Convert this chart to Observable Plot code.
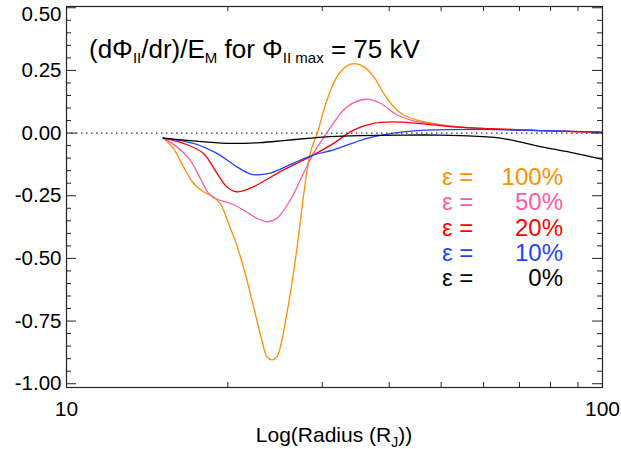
<!DOCTYPE html>
<html><head><meta charset="utf-8">
<script src="https://cdn.jsdelivr.net/npm/d3@7"></script>
<script src="https://cdn.jsdelivr.net/npm/@observablehq/plot@0.6"></script>
<style>
body{margin:0;background:#fff;}
#chart svg{font-family:"Liberation Sans",Arial,Helvetica,sans-serif;}
</style></head><body><div id="chart"></div>
<script>
// ---- data ----
const seriesNames  = ["100%", "50%", "20%", "10%", "0%"];
const seriesColors = ["#ff8f00", "#ff5aa8", "#ff0000", "#1a45ff", "#000000"];

const radius100 = [15.15,15.83,16.52,17.25,18.01,18.67,19.35,20.05,20.73,21.54,22.33,23.14,23.65,24.16,24.69,25.23,25.78,26.34,26.91,28.49,29.37,30.62,31.96,33.37,34.46,35.84,37.41,39.05,40.77,42.56,45.08,48.42,52.03,59.2,76.6,100];
const value100  = [-0.02,-0.061,-0.134,-0.200,-0.234,-0.251,-0.28,-0.36,-0.44,-0.559,-0.692,-0.825,-0.892,-0.905,-0.892,-0.825,-0.718,-0.599,-0.46,-0.081,0.0,0.132,0.225,0.268,0.277,0.265,0.225,0.159,0.105,0.072,0.052,0.039,0.028,0.019,0.010,0.003];

const radius50 = [15.15,16.06,17.0,17.76,18.40,19.08,20.2,21.39,22.66,23.65,24.69,26.15,27.68,28.90,31.0,31.49,33.37,36.10,38.5,41.37,44.43,52.03,59.2,76.6,100];
const value50  = [-0.02,-0.054,-0.107,-0.18,-0.24,-0.264,-0.28,-0.307,-0.34,-0.353,-0.34,-0.267,-0.16,-0.081,0.019,0.04,0.105,0.135,0.119,0.072,0.049,0.028,0.019,0.010,0.003];

const radius20 = [15.15,16.52,18.01,19.08,19.90,20.76,22.0,25.41,28.90,31.49,34.32,37.41,40.77,45.08,52.03,59.2,76.6,100];
const value20  = [-0.02,-0.041,-0.081,-0.16,-0.214,-0.234,-0.22,-0.147,-0.087,-0.041,0.012,0.039,0.045,0.039,0.026,0.019,0.010,0.003];

const radius10 = [15.15,17.25,19.08,20.76,22.0,22.66,24.0,26.52,28.90,31.49,36.36,40.77,47.06,59.2,76.6,100];
const value10  = [-0.02,-0.041,-0.081,-0.134,-0.163,-0.167,-0.16,-0.12,-0.087,-0.067,-0.021,0.0,0.012,0.015,0.010,0.004];

const radius0 = [15.15,17.0,19.9,22.98,25.4,28.5,31.0,35.3,42.0,49.8,54.3,64.5,76.6,87.2,100];
const value0  = [-0.02,-0.03,-0.041,-0.038,-0.03,-0.02,-0.014,-0.010,-0.008,-0.008,-0.010,-0.02,-0.054,-0.077,-0.105];

const yMajorTicks = [-1.0, -0.75, -0.5, -0.25, 0.0, 0.25, 0.5];
const yMinorTicks = [-0.95,-0.9,-0.85,-0.8,-0.7,-0.65,-0.6,-0.55,-0.45,-0.4,-0.35,-0.3,-0.2,-0.15,-0.1,-0.05,0.05,0.1,0.15,0.2,0.3,0.35,0.4,0.45];
const xMinorTicks = [20, 30, 40, 50, 60, 70, 80, 90];
const xTickLabels = [10, 100];
const epsLabel = "ε =";

// ---- build table ----
const radii = [radius100, radius50, radius20, radius10, radius0];
const values = [value100, value50, value20, value10, value0];
const table = [];
seriesNames.forEach((name, i) => {
  radii[i].forEach((r, j) => table.push({name, r, v: values[i][j]}));
});

const W = 621, H = 449, mL = 66, mR = 19, mT = 6, mB = 62;
const iw = W - mL - mR, ih = H - mT - mB;
const legendTop = 184.3 - mT, legendStep = 25.4;

const legendMarks = [];
seriesNames.forEach((name, i) => {
  legendMarks.push(Plot.text([epsLabel], {text: d => d, frameAnchor: "top-left", dx: 441.5 - mL, dy: legendTop + i * legendStep, lineAnchor: "bottom", textAnchor: "start", fill: seriesColors[i], fontSize: 24}));
  legendMarks.push(Plot.text([name], {text: d => d, frameAnchor: "top-left", dx: 562.5 - mL, dy: legendTop + i * legendStep, lineAnchor: "bottom", textAnchor: "end", fill: seriesColors[i], fontSize: 24}));
});

const fmt = d => d.toFixed(2);

const chart = Plot.plot({
  width: W, height: H,
  marginLeft: mL, marginRight: mR, marginTop: mT, marginBottom: mB,
  style: {background: "white", overflow: "visible"},
  x: {type: "log", domain: [10, 100], axis: null, label: null},
  y: {domain: [-1.015, 0.505], axis: null, label: null},
  color: {domain: seriesNames, range: seriesColors},
  marks: [
    Plot.ruleY([0], {stroke: "#333", strokeDasharray: "1.5,3.5", strokeWidth: 1.2}),
    Plot.line(table, {x: "r", y: "v", z: "name", stroke: "name", strokeWidth: 1.3, curve: "catmull-rom"}),
    Plot.tickY(yMajorTicks, {insetRight: iw - 10, stroke: "#222"}),
    Plot.tickY(yMinorTicks, {insetRight: iw - 5, stroke: "#222"}),
    Plot.tickY(yMajorTicks, {insetLeft: iw - 10, stroke: "#222"}),
    Plot.tickY(yMinorTicks, {insetLeft: iw - 5, stroke: "#222"}),
    Plot.tickX(xMinorTicks, {insetTop: ih - 5, stroke: "#222"}),
    Plot.tickX(xMinorTicks, {insetBottom: ih - 5, stroke: "#222"}),
    Plot.frame({stroke: "#222", strokeWidth: 1.2}),
    Plot.axisY(yMajorTicks.filter(d => d !== 0.5), {tickSize: 0, tickPadding: 5, tickFormat: fmt, fontSize: 20.5, fill: "black", label: null}),
    Plot.axisY([0.5], {tickSize: 0, tickPadding: 5, tickFormat: fmt, fontSize: 20.5, fill: "black", dy: 7, label: null}),
    Plot.axisX(xTickLabels, {tickSize: 0, tickPadding: 14, tickFormat: d => String(d), fontSize: 21, fill: "black", label: null}),
    ...legendMarks
  ]
});
document.getElementById("chart").appendChild(chart);

// ---- title and x-axis label with subscripts ----
const svg = d3.select(chart);
function richText(parts, x, y, size, subSize, anchor) {
  const t = svg.append("text").attr("x", x).attr("y", y).attr("font-size", size)
    .attr("fill", "black").attr("text-anchor", anchor).style("white-space", "pre");
  let shifted = false;
  parts.forEach(p => {
    const ts = t.append("tspan").text(p.t);
    if (p.sub && !shifted) { ts.attr("dy", 5).attr("font-size", subSize); shifted = true; }
    else if (p.sub) { ts.attr("font-size", subSize); }
    else if (shifted) { ts.attr("dy", -5); shifted = false; }
  });
}
richText([{t: "(dΦ"}, {t: "II", sub: true}, {t: "/dr)/E"}, {t: "M", sub: true}, {t: " for Φ"}, {t: "II max", sub: true}, {t: " = 75 kV"}], 89, 58, 26, 15, "start");
richText([{t: "Log(Radius (R"}, {t: "J", sub: true}, {t: "))"}], mL + iw / 2, 442, 21, 14, "middle");
</script></body></html>
